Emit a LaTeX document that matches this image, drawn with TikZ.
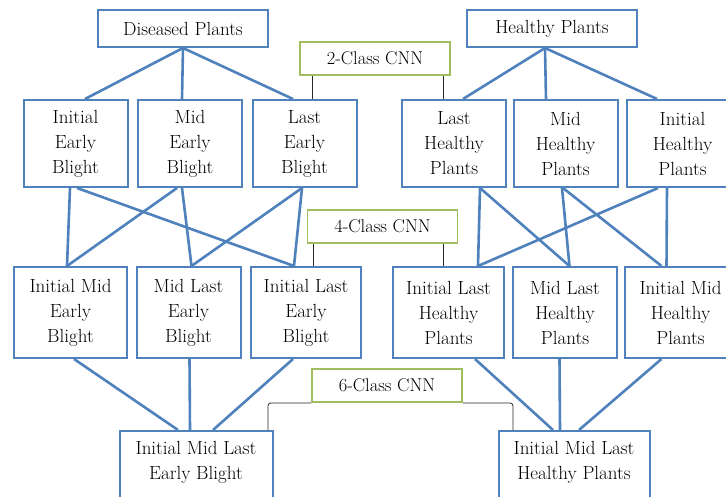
\documentclass[tikz,border=0pt]{standalone}
\usepackage{tikz}
\usetikzlibrary{positioning,calc}
\definecolor{linkblue}{RGB}{79,129,189}
\definecolor{cnngreen}{RGB}{160,190,95}
\definecolor{bracketgray}{RGB}{40,40,40}

\begin{document}
\begin{tikzpicture}[
    x=1pt, y=-1pt,
    plant/.style={rectangle, draw=linkblue, line width=2pt, fill=white, align=center, minimum width=104pt, minimum height=87pt, inner sep=4pt, font=\fontsize{19}{25}\selectfont},
    groupbox/.style={plant, minimum width=170pt, minimum height=37pt},
    finalbox/.style={plant, minimum width=153pt, minimum height=0pt, inner ysep=10pt, text depth=48pt},
    cnn/.style={rectangle, draw=cnngreen, line width=1.8pt, fill=white, minimum width=150pt, minimum height=33pt, font=\fontsize{18.5}{22}\selectfont},
    link/.style={draw=linkblue, line width=2.6pt},
    bracket/.style={draw=bracketgray, line width=0.8pt, rounded corners=3pt},
]
    \useasboundingbox (0,0) rectangle (726,497);
    \clip (0,0) rectangle (726,497);
    \fill[white] (0,0) rectangle (726,497);

    % plant groups
    \node[groupbox] (dis) at (183,28.5) {Diseased Plants};
    \node[groupbox] (hea) at (552,28.5) {Healthy Plants};

    % single stages
    \node[plant] (ieb) at (75.5,143.5) {Initial\\Early\\Blight};
    \node[plant, right=8.5pt of ieb] (meb) {Mid\\Early\\Blight};
    \node[plant, right=8.5pt of meb] (leb) {Last\\Early\\Blight};
    \node[plant] (lhp) at (454,143.5) {Last\\Healthy\\Plants};
    \node[plant, right=5.5pt of lhp] (mhp) {Mid\\Healthy\\Plants};
    \node[plant, minimum width=112pt, right=7pt of mhp] (ihp) {Initial\\Healthy\\Plants};

    % paired stages
    \node[plant, minimum width=113pt, minimum height=91pt] (imeb) at (70.5,312.5) {Initial Mid\\Early\\Blight};
    \node[plant, minimum height=91pt, right=7.5pt of imeb] (mleb) {Mid Last\\Early\\Blight};
    \node[plant, minimum width=110pt, minimum height=91pt, right=8.5pt of mleb] (ileb) {Initial Last\\Early\\Blight};
    \node[plant, minimum width=111pt, minimum height=91pt] (ilhp) at (448.5,312.5) {Initial Last\\Healthy\\Plants};
    \node[plant, minimum height=91pt, right=7pt of ilhp] (mlhp) {Mid Last\\Healthy\\Plants};
    \node[plant, minimum width=112pt, minimum height=91pt, right=5.5pt of mlhp] (imhp) {Initial Mid\\Healthy\\Plants};

    % all stages
    \node[finalbox, anchor=north] (imleb) at (196,430) {Initial Mid Last\\Early Blight};
    \node[finalbox, anchor=north, minimum width=151pt] (imlhp) at (574,430) {Initial Mid Last\\Healthy Plants};

    % classifiers
    \node[cnn] (c2) at (375,58.5) {2-Class CNN};
    \node[cnn] (c4) at (382.5,226.5) {4-Class CNN};
    \node[cnn] (c6) at (387,385.5) {6-Class CNN};

    % group to single stages
    \draw[link] (dis.south) -- ([xshift=9.5pt]ieb.north);
    \draw[link] (dis.south) -- ([xshift=-8pt]meb.north);
    \draw[link] (dis.south) -- ([xshift=-11.5pt]leb.north);
    \draw[link] ([xshift=-7pt]hea.south) -- ([xshift=9pt]lhp.north);
    \draw[link] ([xshift=-7pt]hea.south) -- ([xshift=-19.5pt]mhp.north);
    \draw[link] ([xshift=-7pt]hea.south) -- ([xshift=-25.5pt]ihp.north);

    % single to paired stages
    \draw[link] ([xshift=-5.5pt]ieb.south) -- ([xshift=-3.5pt]imeb.north);
    \draw[link] ([xshift=1.5pt]ieb.south) -- ([xshift=-12pt]ileb.north);
    \draw[link] ([xshift=-13pt]meb.south) -- ([xshift=-3.5pt]imeb.north);
    \draw[link] ([xshift=-8pt]meb.south) -- ([xshift=3pt]mleb.north);
    \draw[link] ([xshift=-2.5pt]leb.south) -- ([xshift=3pt]mleb.north);
    \draw[link] ([xshift=-2.5pt]leb.south) -- ([xshift=-12pt]ileb.north);
    \draw[link] ([xshift=26pt]lhp.south) -- ([xshift=29.5pt]ilhp.north);
    \draw[link] ([xshift=26pt]lhp.south) -- ([xshift=4.5pt]mlhp.north);
    \draw[link] ([xshift=-3.5pt]mhp.south) -- ([xshift=4.5pt]mlhp.north);
    \draw[link] ([xshift=-2.5pt]mhp.south) -- ([xshift=-19pt]imhp.north);
    \draw[link] ([xshift=-24.5pt]ihp.south) -- ([xshift=29.5pt]ilhp.north);
    \draw[link] ([xshift=-15.5pt]ihp.south) -- ([xshift=-14pt]imhp.north);

    % paired to all stages
    \draw[link] ([xshift=3.5pt]imeb.south) -- ([xshift=-18pt]imleb.north);
    \draw[link] ([xshift=1pt]mleb.south) -- ([xshift=-6pt]imleb.north);
    \draw[link] ([xshift=-13pt]ileb.south) -- ([xshift=17pt]imleb.north);
    \draw[link] ([xshift=26.5pt]ilhp.south) -- ([xshift=-21pt]imlhp.north);
    \draw[link] ([xshift=-5.5pt]mlhp.south) -- ([xshift=-14pt]imlhp.north);
    \draw[link] ([xshift=-19pt]imhp.south) -- ([xshift=5pt]imlhp.north);

    % classifier brackets
    \draw[bracket] ([xshift=-63pt]c2.south) -- ([xshift=-63pt]c2.south |- leb.north);
    \draw[bracket] ([xshift=68pt]c2.south) -- ([xshift=68pt]c2.south |- lhp.north);
    \draw[bracket] ([xshift=-69.5pt]c4.south) -- ([xshift=-69.5pt]c4.south |- ileb.north);
    \draw[bracket] ([xshift=60.5pt]c4.south) -- ([xshift=60.5pt]c4.south |- ilhp.north);
    \draw[bracket] (c6.south west) -| ([xshift=72pt]imleb.north);
    \draw[bracket] (c6.south east) -| ([xshift=-61pt]imlhp.north);
\end{tikzpicture}
\end{document}
